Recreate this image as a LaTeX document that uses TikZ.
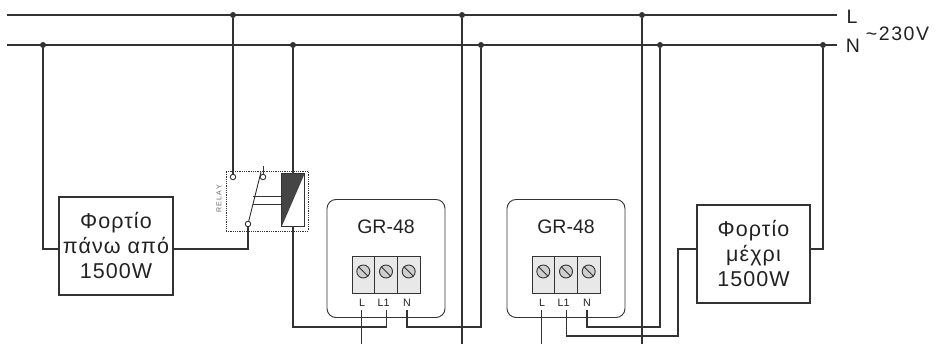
\documentclass[tikz,border=0pt]{standalone}
\usepackage{fontspec}
\setmainfont{Liberation Sans}
\newfontfamily\lsf[LetterSpace=18]{Liberation Sans}
\newfontfamily\lsv[LetterSpace=8]{Liberation Sans}
\newfontfamily\lsl[LetterSpace=5]{Liberation Sans}
\definecolor{ink}{HTML}{333333}
\definecolor{txt}{HTML}{222222}
\definecolor{coilgray}{HTML}{454545}
\definecolor{cellgray}{HTML}{E8E8E8}
\definecolor{screwgray}{HTML}{CFCFCF}
\definecolor{relaytxt}{HTML}{666666}
\tikzset{
  wire/.style={line width=1.2pt, draw=ink},
  thinwire/.style={line width=0.9pt, draw=ink},
  dot/.style={circle, fill=ink, inner sep=0pt, minimum size=6pt},
  loadbox/.style={draw=ink, line width=1.1pt, align=center, inner sep=0pt,
    text=txt, font=\lsl\fontsize{21.5}{25}\selectfont},
  buslab/.style={text=txt, inner sep=0pt, font=\fontsize{19.5}{20}\selectfont},
  voltlab/.style={text=txt, inner sep=0pt, font=\lsv\fontsize{19.5}{20}\selectfont},
  relaybox/.style={draw=ink, line width=0.8pt, densely dotted, inner sep=0pt},
  coilbox/.style={draw=ink, line width=1pt, inner sep=0pt, fill=white,
    path picture={\fill[coilgray] (path picture bounding box.north west) --
      (path picture bounding box.north east) --
      (path picture bounding box.south west) -- cycle;}},
  contact/.style={circle, draw=ink, fill=white, line width=0.9pt, inner sep=0pt, minimum size=5.5pt},
  relaylab/.style={text=relaytxt, inner sep=0pt, font=\lsf\fontsize{7}{7}\selectfont},
  grbox/.style={draw=ink, line width=0.9pt, rounded corners=9pt, inner sep=0pt,
    minimum width=118pt, minimum height=118pt},
  grtitle/.style={text=txt, inner sep=0pt, font=\fontsize{19.5}{20}\selectfont},
  cell/.style={draw=ink, fill=cellgray, line width=0.9pt, inner sep=0pt,
    minimum width=22.7pt, minimum height=37pt},
  screw/.style={circle, draw=ink, fill=screwgray, line width=0.9pt, inner sep=0pt, minimum size=13pt},
  tlab/.style={text=txt, inner sep=0pt, font=\fontsize{10.7}{11}\selectfont},
}
\begin{document}
\begin{tikzpicture}[x=1pt,y=-1pt]
\useasboundingbox (0,0) rectangle (940,344);
% bus lines
\coordinate (L0) at (7,15); \coordinate (L9) at (837,15);
\coordinate (N0) at (7,45); \coordinate (N9) at (837,45);
\draw[wire] (L0) -- (L9);
\draw[wire] (N0) -- (N9);
\node[buslab] (Llab) at (852,17) {L};
\node[buslab] (Nlab) at (853,46) {N};
\node[voltlab] (volt) at (897.5,34) {\textasciitilde 230V};
% junction dots
\node[dot] (dL1) at (233,15) {};
\node[dot] (dL2) at (462,15) {};
\node[dot] (dL3) at (642,15) {};
\node[dot] (dN1) at (43,45) {};
\node[dot] (dN2) at (293,45) {};
\node[dot] (dN3) at (481,45) {};
\node[dot] (dN4) at (660,45) {};
\node[dot] (dN5) at (823,45) {};
% loads
\node[loadbox, minimum width=114pt, minimum height=98pt] (load1) at (116,246) {Φορτίο\\πάνω από\\1500W};
\node[loadbox, minimum width=113pt, minimum height=98pt] (load2) at (753.5,254) {Φορτίο\\μέχρι\\1500W};
% relay
\node[relaybox, minimum width=82pt, minimum height=60pt] (relay) at (267,201) {};
\node[coilbox, minimum width=23pt, minimum height=53pt] (coil) at (293,200.5) {};
\node[contact] (c1) at (233,177) {};
\node[contact] (c2) at (263,177) {};
\node[contact] (c3) at (248,224) {};
\node[relaylab, rotate=90] (rtxt) at (219,199) {RELAY};
\coordinate (bladetop) at (261,172);
\coordinate (stub) at (263,166);
\draw[thinwire] (c3) -- (bladetop);
\draw[thinwire] (c2) -- (stub);
\coordinate (k1) at (253,196.5);
\coordinate (k2) at (253,204.5);
\draw[thinwire] (k1) -- (k1 -| coil.west);
\draw[thinwire] (k2) -- (k2 -| coil.west);
% GR-48 units
\foreach \g/\cx in {1/386, 2/566}{
  \node[grbox] (gr\g) at (\cx,258.5) {};
  \node[grtitle] (title\g) at (\cx,227) {GR-48};
  \foreach \i/\dx in {1/-22.7, 2/0, 3/22.7}{
    \node[cell] (cell\g\i) at (\cx+\dx,274.5) {};
    \node[screw] (screw\g\i) at (\cx+\dx,271.5) {};
    \draw[thinwire] (screw\g\i.135) -- (screw\g\i.-45);
  }
  \node[tlab] (tl\g) at (\cx-24,303) {L};
  \node[tlab] (tm\g) at (\cx-2.5,303) {L1};
  \node[tlab] (tn\g) at (\cx+21,303) {N};
  \coordinate (wl\g) at (\cx-24.5,310);
  \coordinate (wm\g) at (\cx+0.5,310);
  \coordinate (wn\g) at (\cx+21,310);
}
% wiring
\coordinate (bot) at (0,344);
\coordinate (b1) at (43,249);
\coordinate (b2) at (293,327);
\coordinate (b3) at (678,336);
\draw[wire] (dN1) -- (b1) -- (b1 -| load1.west);
\draw[wire] (b1 -| load1.east) -| (c3);
\draw[wire] (dL1) -- (c1);
\draw[wire] (dN2) -- (coil.north);
\draw[wire] (coil.south) -- (b2) -- (b2 -| wm1) -- (wm1);
\draw[wire] (wl1) -- (wl1 |- bot);
\draw[wire] (wn1) -- (wn1 |- b2) -| (dN3);
\draw[wire] (dL2) -- (dL2 |- bot);
\draw[wire] (wl2) -- (wl2 |- bot);
\draw[wire] (wm2) |- (b3) |- (load2.west |- b1);
\draw[wire] (wn2) -- (wn2 |- b2) -| (dN4);
\draw[wire] (dL3) -- (dL3 |- bot);
\draw[wire] (load2.east |- b1) -| (dN5);
\end{tikzpicture}
\end{document}
